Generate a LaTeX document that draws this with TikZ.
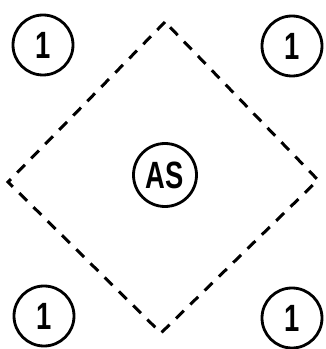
\documentclass[tikz,border=0pt]{standalone}
\usepackage{fontspec}
\setmainfont{Liberation Sans}[FakeStretch=0.72]
\begin{document}
\begin{tikzpicture}[x=1pt,y=1pt,
  ring/.style={circle,draw,line width=2.8pt,minimum size=60pt,inner sep=0pt,font=\fontsize{38}{38}\selectfont\bfseries},
  border/.style={dash pattern=on 11pt off 9pt,line width=3pt}]
\useasboundingbox (0,0) rectangle (325,349);
\node[ring] (tl) at (43,304) {1};
\node[ring] (tr) at (292,303) {1};
\node[ring] (bl) at (44,33) {1};
\node[ring] (br) at (292,31) {1};
\node[ring,minimum size=63pt] (as) at (165,174) {AS};
\coordinate (top) at (165,327);
\coordinate (lft) at (8,167);
\coordinate (bot) at (161,16);
\coordinate (rgt) at (318,169);
\draw[border] (top) -- (lft) -- (bot) -- (rgt) -- cycle;
\end{tikzpicture}
\end{document}
